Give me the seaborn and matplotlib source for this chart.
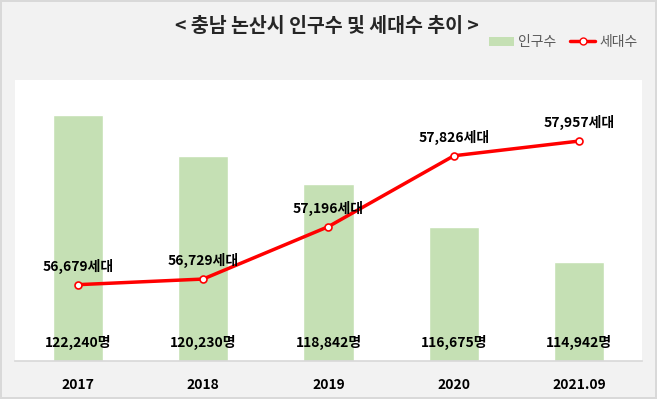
import numpy as np
import pandas as pd
import matplotlib
matplotlib.use("Agg")
import matplotlib.pyplot as plt
import seaborn as sns
from matplotlib.patches import Patch
from matplotlib.lines import Line2D

# 데이터
연도 = ["2017", "2018", "2019", "2020", "2021.09"]
인구수 = [122240, 120230, 118842, 116675, 114942]
세대수 = [56679, 56729, 57196, 57826, 57957]

sns.set_theme(style="white")
plt.rcParams['font.family'] = ['Noto Sans CJK KR', 'DejaVu Sans']

df = pd.DataFrame({"연도": 연도, "인구수": 인구수, "세대수": 세대수})
df["위치"] = np.arange(len(df))

fig = plt.figure(figsize=(6.57, 3.99), dpi=100, facecolor="#f2f2f2",
                 edgecolor="#d9d9d9", linewidth=1.5)
ax = fig.add_axes([15/657, 38/399, 627/657, 281/399])
ax.set_facecolor("white")

# 막대 (인구수)
sns.barplot(data=df, x="연도", y="인구수", color="#c5e0b4", width=0.4,
            saturation=1, ax=ax)
ax.set_ylim(110000, 124000)
ax.set_xlim(-0.5, len(df) - 0.5)
for i, v in enumerate(인구수):
    ax.text(i, 110000 + 14000 * 0.065, f"{v:,}명", ha="center", va="center",
            fontsize=10, fontweight="bold", color="black")

# 선 (세대수)
ax2 = ax.twinx()
sns.lineplot(data=df, x="위치", y="세대수", color="#ff0000", linewidth=2.5,
             marker="o", markersize=5, markerfacecolor="white",
             markeredgecolor="#ff0000", markeredgewidth=1.2, sort=False, ax=ax2)
ax2.set_ylim(56000, 58500)
for i, v in enumerate(세대수):
    ax2.text(i, v + 2500 * 0.065, f"{v:,}세대", ha="center", va="center",
             fontsize=10, fontweight="bold", color="black")

for a in (ax, ax2):
    a.set_xlabel("")
    a.set_ylabel("")
    a.set_yticks([])
    for s in ["top", "left", "right"]:
        a.spines[s].set_visible(False)
ax2.spines["bottom"].set_visible(False)
ax.spines["bottom"].set_color("#d9d9d9")
ax.tick_params(axis="x", length=0, pad=12)
for lbl in ax.get_xticklabels():
    lbl.set_fontweight("bold")
    lbl.set_fontsize(10)
    lbl.set_color("black")

# 제목과 범례
fig.text(327/657, 1 - 27/399, "< 충남 논산시 인구수 및 세대수 추이 >",
         ha="center", va="center", fontsize=14, fontweight="bold")
handles = [Patch(facecolor="#c5e0b4", edgecolor="none"),
           Line2D([0], [0], color="#ff0000", linewidth=2.5, marker="o",
                  markersize=5, markerfacecolor="white", markeredgecolor="#ff0000")]
leg = fig.legend(handles, ["인구수", "세대수"], loc="center right",
                 bbox_to_anchor=(650/657, 1 - 42/399), ncol=2, frameon=False,
                 fontsize=10, handlelength=1.8, handleheight=0.6,
                 columnspacing=1.0, handletextpad=0.3)
for t in leg.get_texts():
    t.set_color("#595959")

fig.savefig("out.png", dpi=100, facecolor=fig.get_facecolor())
